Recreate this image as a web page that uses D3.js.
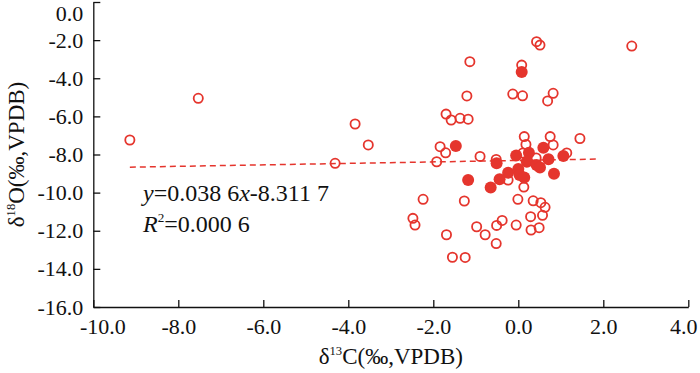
<!DOCTYPE html>
<html><head><meta charset="utf-8">
<script src="https://cdn.jsdelivr.net/npm/d3@7"></script>
<style>
body{margin:0;background:#fff}
svg{display:block}
svg text{fill:#111}
</style>
</head><body>
<svg id="chart" width="700" height="373"></svg>
<script>
// ---- data ----
const xTicks = [-10, -8, -6, -4, -2, 0, 2, 4];
const yTicks = [0, -2, -4, -6, -8, -10, -12, -14, -16];

const openX = [-9.14, -7.53, -4.31, -3.53, -3.84, -2.24, -2.48, -2.43, 0.43, 0.51, -1.14, 0.08, -1.21, -0.13, 0.10, 0.82, 0.69,
  -1.70, -1.58, -1.37, -1.18, 0.14, 0.75, 1.45, -1.84, 0.18, 0.82, -1.71, -0.90, -0.52, -1.92, 0.11, 0.42, 1.14,
  -0.24, 0.13, -1.27, -0.01, 0.35, 0.53, 0.63, -0.38, -0.51, -0.05, 0.29, 0.57, 0.30, 0.49, -0.98, -0.78, -1.69,
  -0.52, -1.55, -1.25, 2.67];
const openY = [-7.24, -5.05, -8.46, -7.50, -6.40, -10.35, -11.35, -11.70, -2.08, -2.26, -3.13, -3.31, -4.93, -4.83, -4.92, -4.79, -5.19,
  -5.88, -6.19, -6.10, -6.15, -7.06, -7.06, -7.16, -7.59, -7.47, -7.50, -7.91, -8.10, -8.26, -8.38, -7.92, -8.18, -7.92,
  -9.34, -9.71, -10.44, -10.35, -10.43, -10.53, -10.77, -11.46, -11.72, -11.70, -11.26, -11.19, -11.96, -11.84, -11.79, -12.21, -12.21,
  -12.67, -13.39, -13.40, -2.31];

const filledX = [0.08, -1.47, 0.59, -0.05, 0.25, 0.20, 0.71, 0.43, 0.51, 1.06, -0.51, -0.24, 0.00, 0.03, 0.14, -0.44, -1.18, -0.65, 0.84];
const filledY = [-3.67, -7.56, -7.64, -8.05, -7.91, -8.38, -8.25, -8.55, -8.68, -8.08, -8.46, -8.96, -8.76, -9.08, -9.21, -9.30, -9.34, -9.73, -9.01];

const trendSlope = 0.0386;
const trendIntercept = -8.3117;
const trendXRange = [-9.14, 1.9];

const xTitle = ["δ", "13", "C(‰,VPDB)"];
const yTitle = ["δ", "18", "O(‰,VPDB)"];
const eqLine1 = [["y", true], ["=0.038 6", false], ["x", true], ["-8.311 7", false]];
const eqLine2 = [["R", true], ["2", false, "sup"], ["=0.000 6", false, "after"]];

// ---- drawing ----
const RED = "#e5352d";
const FONT = "Liberation Serif, DejaVu Serif, Tinos, Times New Roman, Times, Nimbus Roman, FreeSerif, serif";
const svg = d3.select("#chart");
const x = d3.scaleLinear().domain([-10, 4]).range([93.3, 688.3]);
const y = d3.scaleLinear().domain([-16, 0]).range([307, 2]);
const fs = 22;

// axes
const xAxis = d3.axisBottom(x).tickValues(xTicks).tickFormat(d => d.toFixed(1))
  .tickSizeInner(-7).tickSizeOuter(0).tickPadding(11);
const yAxis = d3.axisLeft(y).tickValues(yTicks).tickFormat(d => d.toFixed(1))
  .tickSizeInner(-7).tickSizeOuter(0).tickPadding(10);

const gx = svg.append("g").attr("transform", `translate(0,${y(-16)})`).call(xAxis);
const gy = svg.append("g").attr("transform", `translate(${x(-10)},0)`).call(yAxis);
[gx, gy].forEach(g => {
  g.attr("font-family", FONT).attr("font-size", fs);
  g.selectAll("path.domain").attr("stroke", "#111").attr("stroke-width", 1.3);
  g.selectAll(".tick line").attr("stroke", "#111").attr("stroke-width", 1.3);
  g.selectAll(".tick text").attr("font-family", FONT).attr("font-size", fs).attr("fill", "#111");
});
gy.selectAll(".tick text").filter(d => d === 0).attr("dy", "0.85em");
gx.selectAll(".tick text").filter(d => d === -10).attr("dx", "9");
gx.selectAll(".tick text").filter(d => d === 4).attr("dx", "-5");

// trend line
svg.append("line")
  .attr("x1", x(trendXRange[0])).attr("y1", y(trendSlope * trendXRange[0] + trendIntercept))
  .attr("x2", x(trendXRange[1])).attr("y2", y(trendSlope * trendXRange[1] + trendIntercept))
  .attr("stroke", RED).attr("stroke-width", 1.5).attr("stroke-dasharray", "6,4");

// open points
svg.append("g").selectAll("circle").data(openX.map((v, i) => [v, openY[i]])).join("circle")
  .attr("cx", d => x(d[0])).attr("cy", d => y(d[1])).attr("r", 4.6)
  .attr("fill", "none").attr("stroke", RED).attr("stroke-width", 1.8);

// filled points
svg.append("g").selectAll("circle").data(filledX.map((v, i) => [v, filledY[i]])).join("circle")
  .attr("cx", d => x(d[0])).attr("cy", d => y(d[1])).attr("r", 6)
  .attr("fill", RED).attr("stroke", "none");

// axis titles
function titleText(parts, attrs) {
  const t = svg.append("text").attr("font-family", FONT).attr("font-size", fs + 1).attr("text-anchor", "middle");
  Object.entries(attrs).forEach(([k, v]) => t.attr(k, v));
  t.append("tspan").text(parts[0]);
  t.append("tspan").attr("font-size", "0.55em").attr("dy", "-0.75em").text(parts[1]);
  t.append("tspan").attr("dy", "0.41em").text(parts[2]);
  return t;
}
titleText(xTitle, {x: (x(-10) + x(4)) / 2, y: 364});
titleText(yTitle, {transform: `translate(24,${(y(0) + y(-16)) / 2}) rotate(-90)`});

// equation
function eqText(parts, yy) {
  const t = svg.append("text").attr("x", 143).attr("y", yy).attr("font-family", FONT).attr("font-size", fs + 2);
  parts.forEach(p => {
    const s = t.append("tspan").text(p[0]);
    if (p[1]) s.attr("font-style", "italic");
    if (p[2] === "sup") s.attr("font-size", "0.55em").attr("dy", "-0.75em");
    if (p[2] === "after") s.attr("dy", "0.41em");
  });
}
eqText(eqLine1, 201);
eqText(eqLine2, 232);
</script>
</body></html>
